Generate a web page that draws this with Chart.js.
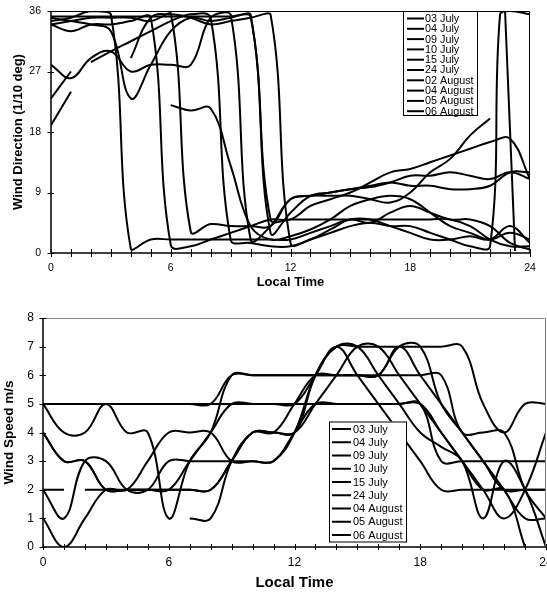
<!DOCTYPE html>
<html>
<head>
<meta charset="utf-8">
<script src="https://cdn.jsdelivr.net/npm/chart.js@4.4.1/dist/chart.umd.min.js"></script>
<style>
  html, body { margin: 0; padding: 0; background: #fff; width: 547px; height: 592px; overflow: hidden; }
  .box { position: absolute; left: 0; width: 547px; }
  #dirBox { top: 0; height: 292px; }
  #spdBox { top: 292px; height: 300px; }
</style>
</head>
<body>
<div id="dirBox" class="box"><canvas id="dirChart" width="547" height="292"></canvas></div>
<div id="spdBox" class="box"><canvas id="spdChart" width="547" height="300"></canvas></div>
<script>
// Local time of day, hourly readings
const hours = [0,1,2,3,4,5,6,7,8,9,10,11,12,13,14,15,16,17,18,19,20,21,22,23,24];
// Hourly grid with a missing reading between 01:00 and 02:00
const hoursSplit = [0,1,1.5,2,3,4,5,6,7,8,9,10,11,12,13,14,15,16,17,18,19,20,21,22,23,24];
// 02 August direction: same gap, plus an extra reading at 22:30
const hours02Aug = [0,1,1.5,2,3,4,5,6,7,8,9,10,11,12,13,14,15,16,17,18,19,20,21,22,22.5,23,24];
// 24 July direction: an early pair and a late pair of readings
const hours24Jul = [0,1,1.5,22.75,23.25];

const timeLabels = [0, 6, 12, 18, 24];
const dirTicks = [0, 9, 18, 27, 36];
const spdTicks = [0, 1, 2, 3, 4, 5, 6, 7, 8];

// Wind direction (1/10 deg)
const dirNames = ['03 July','04 July','09 July','10 July','15 July','24 July','02 August','04 August','05 August','06 August'];
const dir03Jul = [35.2,35.2,35.2,35.2,35.2,35.2,35.2,35.2,35.2,35.2,35.2,5,5,5,5,5,5,5,5,5,5,4,2,1,1];
const dir04Jul = [34.5,35,36,35.5,0.6,2,2,2,2,2,2,2,2,3,4,5,4.5,6,7,6,5,5,4,1.5,0.5];
const dir09Jul = [34,33,34,34,34.5,35,1.2,1,2,3,4,5,5,7,8,9,10.5,12,12.5,13.5,14.5,15.5,16.5,17,11];
const dir10Jul = [34,34.5,35,35,35,34.5,35.7,3.2,4.3,4,4,4,8,8.5,8.5,8.5,8,7.5,9,12,14,17.5,20,null,null];
const dir15Jul = [28,26,29,30,27,28,28,28,35,35.5,2,4,8,8.5,9,9.5,9.8,10.5,11.5,11.5,12,11.5,11,12,11];
const dir24Jul = [23,27,null,36,0.3];                                   // on hours24Jul
const dir02Aug = [19,24,null,28.4,30,31.5,33,34.5,35.5,35,2,1.5,1,1,2,3,4,4.5,4,4,3,2,1,1,35.5,36,35.5]; // on hours02Aug
const dir04Aug = [null,null,null,null,29,35,35.5,35,34,34.5,35,35.5,1.5,2,3.5,5,5,4,3,2,2,2.5,2,4,1.5];
const dir05Aug = [null,null,null,null,null,null,22,21.2,21.5,13,4,2,2.5,3.5,5,7,8,8.5,8,6,4,3,2,3,2];
const dir06Aug = [35,34.5,34,33,23,28,33,35,34.5,35,35.5,3,6,8.5,9,9.5,10,10.5,10,10,9.5,9.5,10,12,12];

// Wind speed (m/s)
const spdNames = ['03 July','04 July','09 July','10 July','15 July','24 July','04 August','05 August','06 August'];
const spd03Jul = [5,5,5,5,5,5,5,5,5,5,5,5,5,5,5,5,5,5,5,3,3,3,3,3,3];
const spd04Jul = [5,4,4,5,4,4,1,3,4,6,6,6,6,6,6,6,6,6,6,6,4,4,4,2,1];
const spd09Jul = [4,3,3,2,2,2,2,3,4,5,5,5,5,6,7,6,5,4,3,2,2,2,2,2,2];
const spd10Jul = [2,1,3,3,2,2,3,3,3,3,3,3,4,6,7,7,6,5,4,3.5,3,1,3,2,0];
const spd15Jul = [1,0,1,2,2,3,4,4,4,3,3,3,4,5,5,5,5,5,5,4,3,2,1,2,4];
const spd24Jul = [5,5,5,5,5,5,5,5,5,6,6,6,6,6,6,6,6,7,7,5,4,3,2,1,1];
const spd04Aug = [null,null,null,null,null,null,null,1,1,3,4,4,4,5,6,7,7,6,5,4,3,2,2,0,null];
const spd05Aug = [2,2,null,2,2,2,2,2,2,2,3,4,4,4,6,7,7,7,7,7,7,7,5,4,5,5]; // on hoursSplit
const spd06Aug = [4,3,3,2,2,2,2,2,2,3,4,4,5,6,6,6,6,7,6,5,4,3,2,2,2];

function series(label, xs, ys, gapped) {
  return {
    label,
    data: xs.map((h, i) => ({ x: h, y: ys[i] })),
    borderColor: '#000',
    backgroundColor: '#000',
    borderWidth: 2,
    pointRadius: 0,
    tension: 0.4,
    fill: false,
    spanGaps: !gapped
  };
}

const FONT = '"Liberation Sans", Arial, sans-serif';

// Axes, frame, crossing tick marks, labels, titles and boxed legend
const decor = {
  id: 'decor',
  afterDraw(chart, args, o) {
    const { ctx, chartArea: a, scales: { x, y } } = chart;
    ctx.save();
    // plot frame (top and right)
    ctx.strokeStyle = o.frameColor;
    ctx.lineWidth = 1;
    ctx.beginPath();
    ctx.moveTo(a.left, a.top + 0.5);
    ctx.lineTo(a.right - 0.5, a.top + 0.5);
    ctx.lineTo(a.right - 0.5, a.bottom);
    ctx.stroke();
    // axis lines
    ctx.strokeStyle = '#000';
    ctx.lineWidth = 1.5;
    ctx.beginPath();
    ctx.moveTo(a.left, a.top);
    ctx.lineTo(a.left, a.bottom);
    ctx.lineTo(a.right, a.bottom);
    ctx.stroke();
    // hourly tick marks on the time axis
    ctx.lineWidth = 1;
    ctx.beginPath();
    for (const h of hours) {
      const px = Math.round(x.getPixelForValue(h)) + 0.5;
      ctx.moveTo(px, a.bottom - o.tickUp);
      ctx.lineTo(px, a.bottom + o.tickDown);
    }
    for (const v of o.yTicks) {
      const py = Math.round(y.getPixelForValue(v)) + 0.5;
      ctx.moveTo(a.left - 3.5, py);
      ctx.lineTo(a.left + 3, py);
    }
    ctx.stroke();
    // tick labels
    ctx.fillStyle = '#000';
    ctx.font = o.tickFont + 'px ' + FONT;
    ctx.textAlign = 'center';
    ctx.textBaseline = 'middle';
    for (const h of timeLabels) {
      ctx.fillText(String(h), x.getPixelForValue(h), a.bottom + o.xLabelOff);
    }
    ctx.textAlign = 'right';
    for (const v of o.yTicks) {
      ctx.fillText(String(v), a.left - o.yLabelGap, y.getPixelForValue(v));
    }
    // axis titles
    ctx.font = 'bold ' + o.xTitleFont + 'px ' + FONT;
    ctx.textAlign = 'center';
    ctx.fillText('Local Time', (a.left + a.right) / 2, a.bottom + o.xTitleOff);
    ctx.save();
    ctx.translate(o.yTitleX, (a.top + a.bottom) / 2);
    ctx.rotate(-Math.PI / 2);
    ctx.font = 'bold ' + o.yTitleFont + 'px ' + FONT;
    ctx.fillText(o.yTitle, 0, 0);
    ctx.restore();
    // legend
    const L = o.legend;
    ctx.fillStyle = '#fff';
    ctx.fillRect(L.x, L.y, L.w, L.h);
    ctx.strokeStyle = '#000';
    ctx.lineWidth = 1;
    ctx.strokeRect(L.x + 0.5, L.y + 0.5, L.w, L.h);
    ctx.font = L.font + 'px ' + FONT;
    ctx.textAlign = 'left';
    ctx.textBaseline = 'middle';
    chart.data.datasets.forEach((ds, i) => {
      const cy = L.y + L.first + i * L.step;
      ctx.strokeStyle = '#000';
      ctx.lineWidth = 2;
      ctx.beginPath();
      ctx.moveTo(L.x + L.lineX0, cy);
      ctx.lineTo(L.x + L.lineX1, cy);
      ctx.stroke();
      ctx.fillStyle = '#000';
      ctx.fillText(ds.label, L.x + L.textX, cy + 0.5);
    });
    ctx.restore();
  }
};

function makeChart(id, datasets, yMax, box, deco) {
  return new Chart(document.getElementById(id), {
    type: 'line',
    data: { datasets },
    options: {
      responsive: false,
      animation: false,
      devicePixelRatio: 1,
      layout: { padding: { top: box.top, right: box.right, left: 0, bottom: 0 } },
      plugins: { legend: { display: false }, tooltip: { enabled: false }, decor: deco },
      scales: {
        x: {
          type: 'linear', min: 0, max: 24,
          ticks: { display: false }, grid: { display: false }, border: { display: false },
          afterFit(s) { s.height = box.xAxisH; s.paddingLeft = 0; s.paddingRight = 0; }
        },
        y: {
          type: 'linear', min: 0, max: yMax,
          ticks: { display: false }, grid: { display: false }, border: { display: false },
          afterFit(s) { s.width = box.yAxisW; s.paddingTop = 0; s.paddingBottom = 0; }
        }
      }
    },
    plugins: [decor]
  });
}

makeChart('dirChart', [
  series(dirNames[0], hours, dir03Jul),
  series(dirNames[1], hours, dir04Jul),
  series(dirNames[2], hours, dir09Jul),
  series(dirNames[3], hours, dir10Jul),
  series(dirNames[4], hours, dir15Jul),
  series(dirNames[5], hours24Jul, dir24Jul, true),
  series(dirNames[6], hours02Aug, dir02Aug, true),
  series(dirNames[7], hours, dir04Aug),
  series(dirNames[8], hours, dir05Aug),
  series(dirNames[9], hours, dir06Aug)
], 36,
{ top: 11, right: 17, xAxisH: 39, yAxisW: 51 },
{ frameColor: '#000', yTicks: dirTicks, tickUp: 4, tickDown: 4, tickFont: 10.5,
  xLabelOff: 15.5, yLabelGap: 10, xTitleFont: 13, xTitleOff: 29, yTitleFont: 13, yTitleX: 18,
  yTitle: 'Wind Direction (1/10 deg)',
  legend: { x: 403, y: 11, w: 74, h: 104, font: 10.8, first: 7.5, step: 10.3, lineX0: 4, lineX1: 21, textX: 22 } });

makeChart('spdChart', [
  series(spdNames[0], hours, spd03Jul),
  series(spdNames[1], hours, spd04Jul),
  series(spdNames[2], hours, spd09Jul),
  series(spdNames[3], hours, spd10Jul),
  series(spdNames[4], hours, spd15Jul),
  series(spdNames[5], hours, spd24Jul),
  series(spdNames[6], hours, spd04Aug),
  series(spdNames[7], hoursSplit, spd05Aug, true),
  series(spdNames[8], hours, spd06Aug)
], 8,
{ top: 26, right: 1, xAxisH: 45, yAxisW: 43 },
{ frameColor: '#808080', yTicks: spdTicks, tickUp: 3, tickDown: 3, tickFont: 12,
  xLabelOff: 15.5, yLabelGap: 9, xTitleFont: 15, xTitleOff: 36, yTitleFont: 13.5, yTitleX: 9,
  yTitle: 'Wind Speed m/s',
  legend: { x: 329, y: 129.5, w: 77, h: 120, font: 11, first: 7.5, step: 13.25, lineX0: 3, lineX1: 22, textX: 24 } });
</script>
</body>
</html>
